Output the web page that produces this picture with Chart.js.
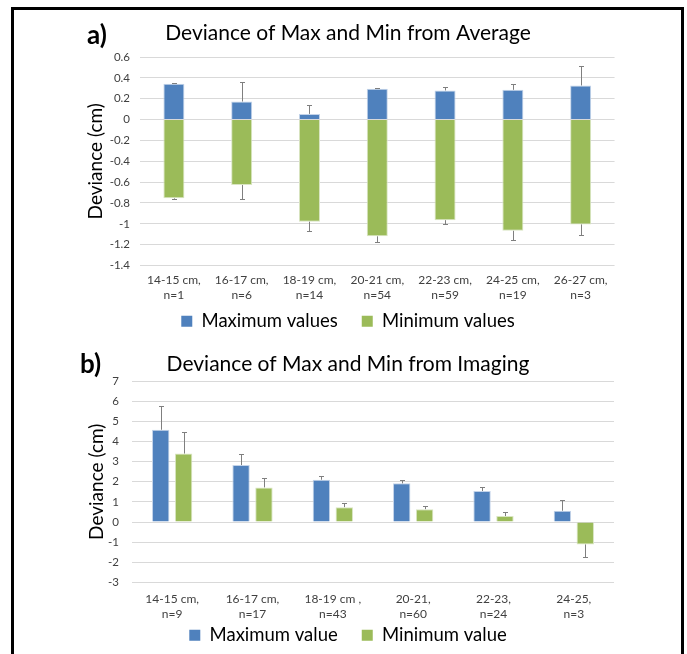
<!DOCTYPE html>
<html>
<head>
<meta charset="utf-8">
<script src="https://cdn.jsdelivr.net/npm/chart.js@4.4.0/dist/chart.umd.min.js"></script>
<style>
  html, body { margin: 0; padding: 0; background: #fff; overflow: hidden; }
  body { width: 687px; height: 654px; position: relative; font-family: Lato, sans-serif; }
  #frame { position: absolute; left: 11px; top: 7px; width: 667px; height: 700px; border: 3px solid #000; }
  .tag { position: absolute; font-weight: bold; font-size: 26px; line-height: 30px; color: #000; }
  canvas { position: absolute; }
</style>
</head>
<body>
<div id="frame"></div>
<canvas id="chartA" width="534" height="350" style="left:81px;top:8px;width:534px;height:350px"></canvas>
<canvas id="chartB" width="532" height="337" style="left:82px;top:338px;width:532px;height:337px"></canvas>
<div class="tag" style="left:87px;top:19px">a)</div>
<div class="tag" style="left:80px;top:348px">b)</div>
<script>
// a) deviance from average
const sizesA = ['14-15 cm,', '16-17 cm,', '18-19 cm,', '20-21 cm,', '22-23 cm,', '24-25 cm,', '26-27 cm,'];
const countsA = ['n=1', 'n=6', 'n=14', 'n=54', 'n=59', 'n=19', 'n=3'];
const maxA = [0.343, 0.173, 0.054, 0.295, 0.279, 0.285, 0.327];
const maxErrA = [0.347, 0.359, 0.144, 0.298, 0.317, 0.343, 0.51];
const minA = [-0.756, -0.628, -0.98, -1.12, -0.965, -1.067, -1.006];
const minErrA = [-0.763, -0.763, -1.07, -1.173, -1.003, -1.154, -1.109];

// b) deviance from imaging
const sizesB = ['14-15 cm,', '16-17 cm,', '18-19 cm ,', '20-21,', '22-23,', '24-25,'];
const countsB = ['n=9', 'n=17', 'n=43', 'n=60', 'n=24', 'n=3'];
const maxB = [4.58, 2.83, 2.10, 1.92, 1.54, 0.56];
const maxErrB = [5.74, 3.36, 2.31, 2.07, 1.72, 1.07];
const minB = [3.40, 1.72, 0.74, 0.64, 0.30, -1.11];
const minErrB = [4.48, 2.21, 0.93, 0.81, 0.48, -1.75];

const BLUE = '#4f81bd';
const GREEN = '#9bbb59';

Chart.defaults.font.family = 'Lato, sans-serif';

// one-sided error bars, drawn from the bar end to the value in errorEnds
const errorBars = {
  id: 'errorBars',
  afterDatasetsDraw(chart) {
    const ctx = chart.ctx;
    const yScale = chart.scales.y;
    ctx.save();
    ctx.strokeStyle = '#7f7f7f';
    ctx.lineWidth = 1;
    chart.data.datasets.forEach((ds, i) => {
      chart.getDatasetMeta(i).data.forEach((bar, j) => {
        const x = Math.round(bar.x) + 0.5;
        const y1 = Math.round(yScale.getPixelForValue(ds.errorEnds[j])) + 0.5;
        ctx.beginPath();
        ctx.moveTo(x, bar.y);
        ctx.lineTo(x, y1);
        ctx.moveTo(x - 2.5, y1);
        ctx.lineTo(x + 2.5, y1);
        ctx.stroke();
      });
    });
    ctx.restore();
  }
};

function plainBoxes(chart) {
  return Chart.defaults.plugins.legend.labels.generateLabels(chart)
    .map(l => Object.assign(l, { strokeStyle: l.fillStyle, lineWidth: 0 }));
}

function makeChart(id, o) {
  // the legend keeps wide gaps between items but sits close under the tick labels
  const legendSpot = {
    id: 'legendSpot',
    afterLayout(chart) {
      const lg = chart.legend;
      const h = lg.bottom - lg.top;
      lg.top = o.legendTop;
      lg.bottom = lg.top + h;
    }
  };
  return new Chart(document.getElementById(id), {
    type: 'bar',
    data: {
      labels: o.sizes.map((s, i) => [s, o.counts[i]]),
      datasets: [
        { label: o.names[0], data: o.max, errorEnds: o.maxErr, backgroundColor: BLUE, borderColor: '#c3d3e9', borderWidth: 1 },
        { label: o.names[1], data: o.min, errorEnds: o.minErr, backgroundColor: GREEN, borderColor: '#d9e5c2', borderWidth: 1 }
      ]
    },
    plugins: [errorBars, legendSpot],
    options: {
      responsive: false,
      animation: false,
      layout: { padding: 0 },
      datasets: { bar: { categoryPercentage: o.catPct, barPercentage: o.barPct } },
      plugins: {
        title: { display: true, text: o.title, color: '#000', font: { size: 21, weight: 'normal' }, padding: o.titlePad },
        legend: {
          position: 'bottom',
          labels: { boxWidth: 11, boxHeight: 11, padding: 24, color: '#000', font: { size: 18.5 }, generateLabels: plainBoxes }
        },
        tooltip: { enabled: false }
      },
      scales: {
        x: {
          stacked: o.stacked,
          afterFit: s => { s.height = 40; },
          grid: { display: false, drawTicks: false },
          border: { display: false },
          ticks: { color: '#404040', font: { size: 12, lineHeight: o.xLine }, padding: o.xPad, maxRotation: 0, autoSkip: false }
        },
        y: {
          stacked: o.stacked,
          min: o.yMin,
          max: o.yMax,
          afterFit: s => { s.width = o.yWidth; },
          border: { display: false },
          grid: { color: '#d9d9d9', drawTicks: false },
          ticks: {
            stepSize: o.step,
            color: '#404040',
            font: { size: 11.5 },
            padding: o.yPad,
            callback: v => String(Number(v.toFixed(1)))
          },
          title: { display: true, text: 'Deviance (cm)', color: '#000', font: { size: 19 }, padding: { top: 3, bottom: 0 } }
        }
      }
    }
  });
}

function draw() {
  makeChart('chartA', {
    sizes: sizesA, counts: countsA,
    max: maxA, maxErr: maxErrA, min: minA, minErr: minErrA,
    names: ['Maximum values', 'Minimum values'],
    title: 'Deviance of Max and Min from Average',
    stacked: true, catPct: 0.31, barPct: 1,
    yMin: -1.4, yMax: 0.6, step: 0.2,
    yWidth: 59, yPad: 10, xPad: 7.5, xLine: 1.25,
    titlePad: { top: 12.4, bottom: 11.4 }, legendTop: 280
  });
  makeChart('chartB', {
    sizes: sizesB, counts: countsB,
    max: maxB, maxErr: maxErrB, min: minB, minErr: minErrB,
    names: ['Maximum value', 'Minimum value'],
    title: 'Deviance of Max and Min from Imaging',
    stacked: false, catPct: 0.57, barPct: 0.76,
    yMin: -3, yMax: 7, step: 1,
    yWidth: 50, yPad: 13, xPad: 9.8, xLine: 1.2,
    titlePad: { top: 13.4, bottom: 4.4 }, legendTop: 264
  });
}

Promise.all([
  document.fonts.load('11px Lato'),
  document.fonts.load('bold 26px Lato')
]).then(draw, draw);
</script>
</body>
</html>
